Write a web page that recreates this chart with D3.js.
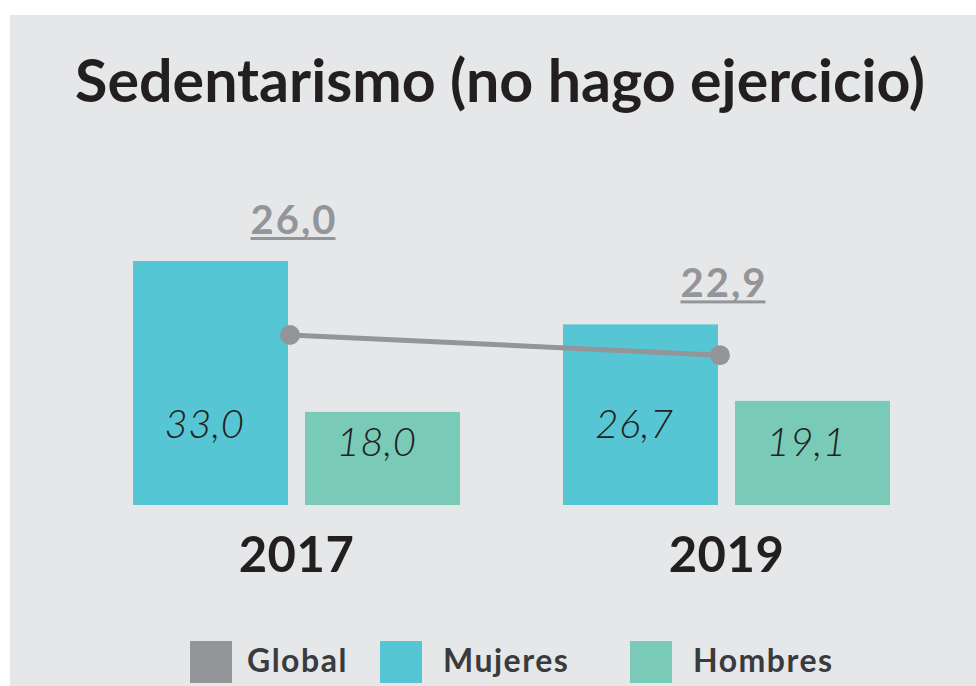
<!DOCTYPE html>
<html>
<head>
<meta charset="utf-8">
<script src="https://cdn.jsdelivr.net/npm/d3@7"></script>
<style>
  html, body { margin: 0; padding: 0; background: #fff; }
  svg { display: block; }
</style>
</head>
<body>
<svg id="chart" width="976" height="686"></svg>
<script>
// Data
const years = ["2017", "2019"];
const series = ["Mujeres", "Hombres"];
const mujeres = [33.0, 26.7];
const hombres = [18.0, 19.1];
const global = [26.0, 22.9];
const legendLabels = ["Global", "Mujeres", "Hombres"];

const colors = {
  bg: "#e6e7e8",
  Mujeres: "#56c6d5",
  Hombres: "#79cab7",
  Global: "#939598",
  text: "#231f20",
  legendText: "#3a3b3d",
};

const fmt = (v) => v.toFixed(1).replace(".", ",");

const width = 976;
const height = 686;
const svg = d3.select("#chart");

// panel background
svg.append("rect")
  .attr("x", 10).attr("y", 15)
  .attr("width", width - 10).attr("height", height - 15)
  .attr("fill", colors.bg);

// Title, sized to fill its slot
const title = svg.append("text")
  .attr("x", 500).attr("y", 102)
  .attr("text-anchor", "middle")
  .attr("font-family", "Lato, 'Noto Sans', sans-serif")
  .attr("font-weight", 700)
  .attr("font-size", 50)
  .attr("fill", colors.text)
  .text("Sedentarismo (no hago ejercicio)");
const tw = title.node().getComputedTextLength();
title.attr("font-size", 50 * 850 / tw);

// Scales
const x0 = d3.scaleBand().domain(years).range([133, 890]).paddingInner(0.2395).paddingOuter(0);
const x1 = d3.scaleBand().domain(series).range([0, x0.bandwidth()]).paddingInner(0.099).paddingOuter(0);
const yBar = d3.scaleLinear().domain([8.75, 33]).range([505, 261]);
const yGlobal = d3.scaleLinear().domain([0, 26]).range([505, 335]);

const rows = years.map((yr, i) => ({
  year: yr,
  values: [
    { key: "Mujeres", value: mujeres[i] },
    { key: "Hombres", value: hombres[i] },
  ],
  global: global[i],
}));

const groups = svg.selectAll("g.year")
  .data(rows)
  .join("g")
  .attr("class", "year")
  .attr("transform", (d) => `translate(${x0(d.year)},0)`);

groups.selectAll("rect")
  .data((d) => d.values)
  .join("rect")
  .attr("x", (d) => x1(d.key))
  .attr("y", (d) => yBar(d.value))
  .attr("width", x1.bandwidth())
  .attr("height", (d) => yBar.range()[0] - yBar(d.value))
  .attr("fill", (d) => colors[d.key]);

// values inside bars
const labelOffset = { Mujeres: 67, Hombres: 49 };
groups.selectAll("text.val")
  .data((d) => d.values)
  .join("text")
  .attr("class", "val")
  .attr("x", (d) => x1(d.key) + x1.bandwidth() / 2 - 6)
  .attr("y", (d) => yBar.range()[0] - labelOffset[d.key])
  .attr("text-anchor", "middle")
  .attr("font-family", "Lato, 'Noto Sans', sans-serif")
  .attr("font-style", "italic")
  .attr("font-weight", 300)
  .attr("font-size", 40)
  .attr("letter-spacing", 0.5)
  .attr("fill", colors.text)
  .text((d) => fmt(d.value));

// year labels
groups.append("text")
  .attr("x", x0.bandwidth() / 2)
  .attr("y", 572)
  .attr("text-anchor", "middle")
  .attr("font-family", "Lato, 'Noto Sans', sans-serif")
  .attr("font-weight", 700)
  .attr("font-size", 49)
  .attr("letter-spacing", 0.5)
  .attr("fill", colors.text)
  .text((d) => d.year);

// Global line
const gx = (d) => x0(d.year) + x1("Mujeres") + x1.bandwidth() + 2;
svg.append("path")
  .datum(rows)
  .attr("fill", "none")
  .attr("stroke", colors.Global)
  .attr("stroke-width", 5)
  .attr("d", d3.line().x(gx).y((d) => yGlobal(d.global)));

svg.selectAll("circle.global")
  .data(rows)
  .join("circle")
  .attr("class", "global")
  .attr("cx", gx)
  .attr("cy", (d) => yGlobal(d.global))
  .attr("r", 10)
  .attr("fill", colors.Global);

// Global labels, underlined, above the Mujeres bar
const gl = svg.selectAll("g.glabel")
  .data(rows)
  .join("g")
  .attr("class", "glabel");
gl.append("text")
  .attr("x", (d) => gx(d) + 4)
  .attr("y", (d) => yBar(d.values[0].value) - 27)
  .attr("text-anchor", "middle")
  .attr("font-family", "Lato, 'Noto Sans', sans-serif")
  .attr("font-weight", 700)
  .attr("font-size", 40)
  .attr("letter-spacing", 2)
  .attr("fill", colors.Global)
  .text((d) => fmt(d.global))
  .each(function () {
    const b = this.getBBox();
    d3.select(this.parentNode).append("rect")
      .attr("x", b.x)
      .attr("y", +d3.select(this).attr("y") + 3)
      .attr("width", b.width - 2)
      .attr("height", 3)
      .attr("fill", colors.Global);
  });

// Legend
const legendX = [190, 380, 630];
const legend = svg.selectAll("g.legend")
  .data(legendLabels)
  .join("g")
  .attr("class", "legend")
  .attr("transform", (d, i) => `translate(${legendX[i]},641)`);
legend.append("rect")
  .attr("width", 42).attr("height", 42)
  .attr("fill", (d) => colors[d]);
legend.append("text")
  .attr("x", (d, i) => (i === 0 ? 57 : 63))
  .attr("y", 31)
  .attr("font-family", "Lato, 'Noto Sans', sans-serif")
  .attr("font-weight", 700)
  .attr("font-size", 32)
  .attr("letter-spacing", 1.5)
  .attr("fill", colors.legendText)
  .text((d) => d);
</script>
</body>
</html>
